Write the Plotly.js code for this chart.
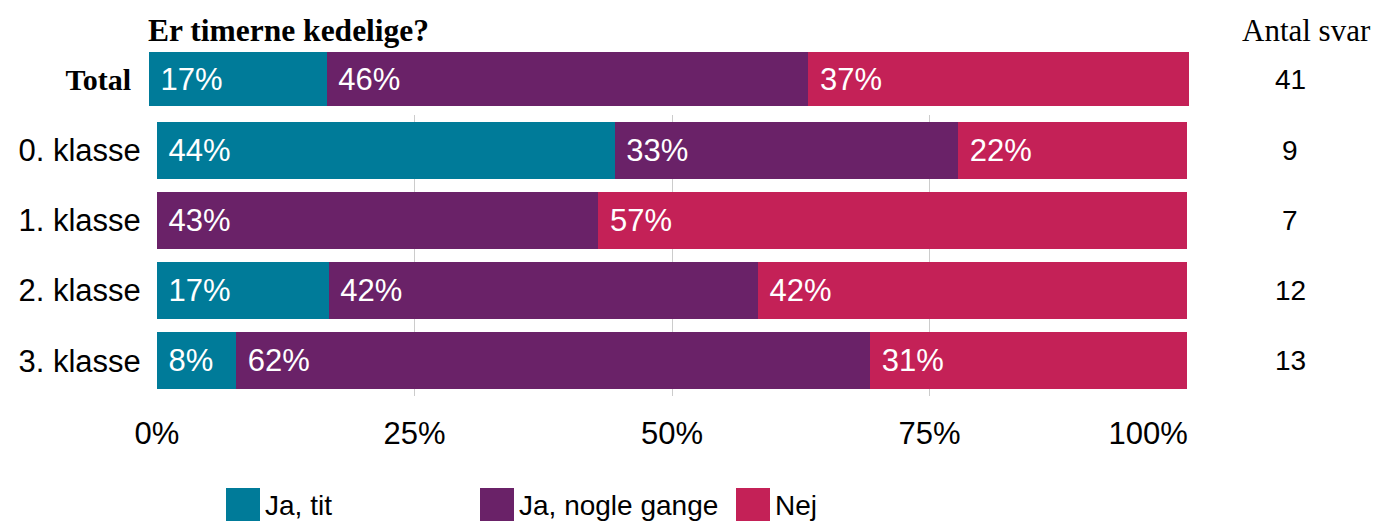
<!DOCTYPE html>
<html>
<head>
<meta charset="utf-8">
<script src="https://cdn.plot.ly/plotly-3.0.1.min.js"></script>
<style>html,body{margin:0;padding:0;background:#fff;}</style>
</head>
<body>
<div id="chart" style="width:1379px;height:523px;"></div>
<script>
// ---- data ----
const chartTitle = 'Er timerne kedelige?';
const countTitle = 'Antal svar';
const seriesNames = ['Ja, tit', 'Ja, nogle gange', 'Nej'];
const seriesColors = ['rgb(0,123,153)', 'rgb(106,34,104)', 'rgb(196,33,87)'];

const totalLabel = 'Total';
const totalValues = [17.07, 46.34, 36.59];
const totalCount = 41;

const classes = ['0. klasse', '1. klasse', '2. klasse', '3. klasse'];
const jaTit = [44.44, 0, 16.67, 7.69];
const jaNogle = [33.33, 42.86, 41.67, 61.54];
const nej = [22.22, 57.14, 41.67, 30.77];
const classCounts = [9, 7, 12, 13];

const xTickVals = [0, 25, 50, 75, 100];
const xTickText = ['0%', '25%', '50%', '75%', '100%'];

// ---- helpers ----
const W = 1379, H = 523;
const px = v => v / W;
const py = v => 1 - v / H;
const NB = '\u00a0';
const lbl = v => v > 0 ? NB + Math.round(v) + '%' : '';
const classSeries = [jaTit, jaNogle, nej];
const sans = 'Liberation Sans, Arial';
const serif = 'Liberation Serif, Times New Roman';

const traces = [];
classSeries.forEach((vals, i) => {
  traces.push({
    type: 'bar', orientation: 'h', name: seriesNames[i],
    y: classes, x: vals, xaxis: 'x', yaxis: 'y',
    marker: {color: seriesColors[i]},
    text: vals.map(lbl), textposition: 'inside', insidetextanchor: 'start',
    textangle: 0, constraintext: 'none',
    insidetextfont: {family: sans, size: 31, color: '#fff'},
    width: 0.81, showlegend: false, hoverinfo: 'skip'
  });
  traces.push({
    type: 'bar', orientation: 'h', name: seriesNames[i],
    y: [totalLabel], x: [totalValues[i]], xaxis: 'x2', yaxis: 'y2',
    marker: {color: seriesColors[i]},
    text: [lbl(totalValues[i])], textposition: 'inside', insidetextanchor: 'start',
    textangle: 0, constraintext: 'none',
    insidetextfont: {family: sans, size: 31, color: '#fff'},
    width: 0.82, showlegend: false, hoverinfo: 'skip'
  });
});

const annotations = [];
classes.forEach((c, i) => annotations.push({
  xref: 'paper', yref: 'y', x: px(1290), y: c, text: String(classCounts[i]),
  showarrow: false, xanchor: 'center', yanchor: 'middle',
  font: {family: sans, size: 28, color: '#000'}
}));
annotations.push({
  xref: 'paper', yref: 'y2', x: px(1290), y: totalLabel, text: String(totalCount),
  showarrow: false, xanchor: 'center', yanchor: 'middle',
  font: {family: sans, size: 28, color: '#000'}
});
annotations.push({
  xref: 'paper', yref: 'paper', x: px(1306), y: py(30), text: countTitle,
  showarrow: false, xanchor: 'center', yanchor: 'middle',
  font: {family: serif, size: 31, color: '#000'}
});

// manual legend with large squares
const legendX = [226, 480, 736];
const shapes = [];
seriesNames.forEach((n, i) => {
  shapes.push({type: 'rect', xref: 'paper', yref: 'paper',
    x0: px(legendX[i]), x1: px(legendX[i] + 34), y0: py(521), y1: py(488),
    fillcolor: seriesColors[i], line: {width: 0}});
  annotations.push({xref: 'paper', yref: 'paper', x: px(legendX[i] + 37), y: py(505),
    text: n, showarrow: false, xanchor: 'left', yanchor: 'middle',
    font: {family: sans, size: 28, color: '#000'}});
});

// last tick label is kept inside the plot (right-aligned to the 100% line)
const xTickTextShown = xTickText.map((t, i) => i === xTickText.length - 1 ? t + NB.repeat(9) : t);

const layout = {
  width: W, height: H, autosize: false,
  margin: {l: 0, r: 0, t: 0, b: 0},
  paper_bgcolor: '#fff', plot_bgcolor: 'rgba(0,0,0,0)',
  barmode: 'stack', showlegend: false,
  title: {text: '<b>' + chartTitle + '</b>', x: px(148), xanchor: 'left', xref: 'paper',
    y: py(30), yanchor: 'middle', yref: 'paper',
    font: {family: serif, size: 31.5, color: '#000'}},
  xaxis: {domain: [px(157), px(1187)], range: [0, 100], anchor: 'y',
    tickvals: xTickVals, ticktext: xTickTextShown, showgrid: true, gridcolor: '#cccccc', gridwidth: 1,
    zeroline: false, showline: false, ticks: 'outside', ticklen: 10, tickcolor: 'rgba(0,0,0,0)',
    tickfont: {family: sans, size: 31, color: '#000'}, fixedrange: true},
  yaxis: {domain: [py(396), py(115)], range: [3.5, -0.5], type: 'category', anchor: 'x',
    showgrid: false, zeroline: false, showline: false, ticks: 'outside', ticklen: 9,
    tickcolor: 'rgba(0,0,0,0)',
    tickfont: {family: sans, size: 31, color: '#000'}, fixedrange: true},
  xaxis2: {domain: [px(149), px(1189)], range: [0, 100], anchor: 'y2', visible: false, fixedrange: true},
  yaxis2: {domain: [py(112), py(46)], range: [-0.5, 0.5], type: 'category', anchor: 'x2',
    showgrid: false, zeroline: false, showline: false, ticks: 'outside', ticklen: 11,
    tickcolor: 'rgba(0,0,0,0)', tickvals: [totalLabel], ticktext: ['<b>' + totalLabel + '</b>'],
    tickfont: {family: serif, size: 30, color: '#000'}, fixedrange: true},
  annotations: annotations,
  shapes: shapes
};

Plotly.newPlot('chart', traces, layout, {displayModeBar: false, staticPlot: true});
</script>
</body>
</html>
